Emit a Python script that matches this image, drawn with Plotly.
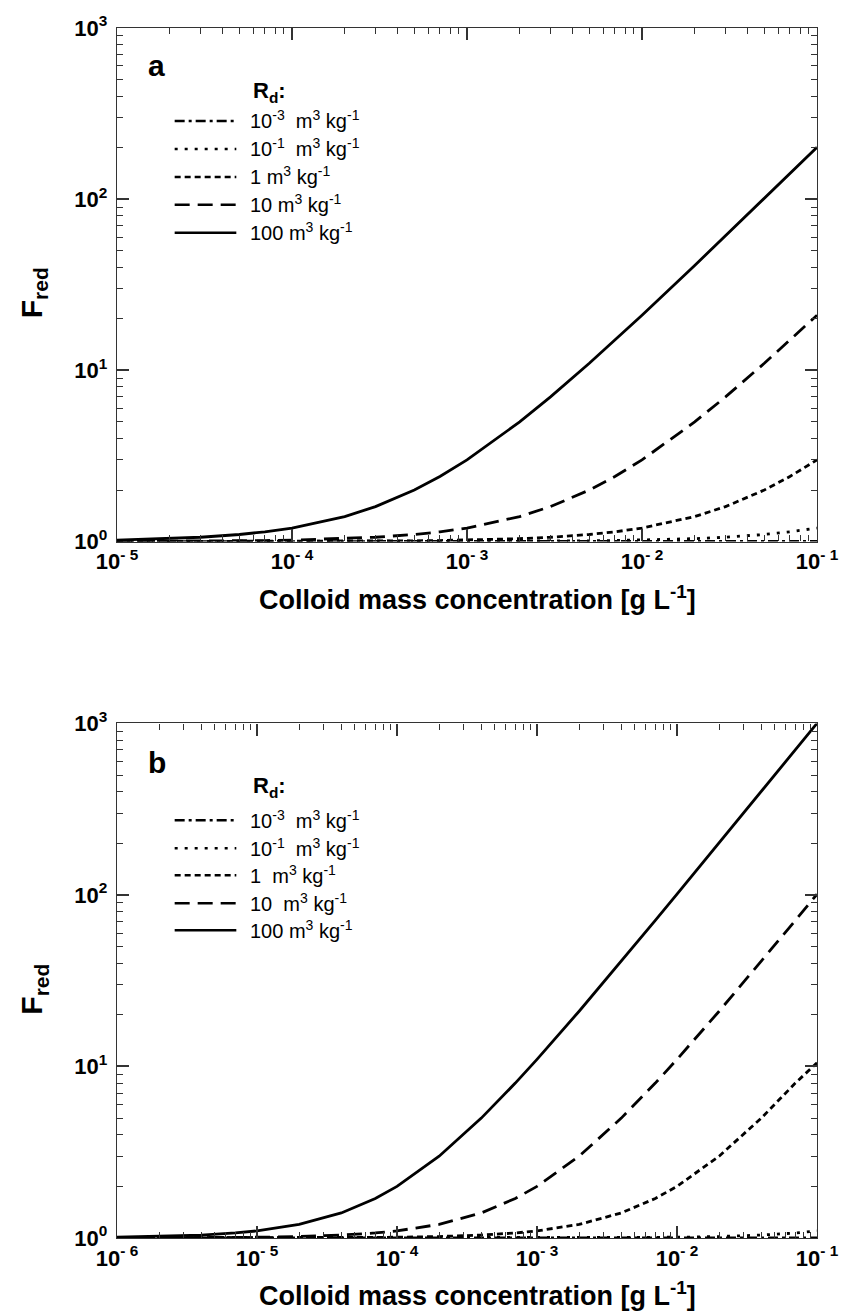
import plotly.graph_objects as go

# ---------------- data ----------------
conc_a = [1e-5, 2e-5, 3e-5, 5e-5, 7e-5, 1e-4, 2e-4, 3e-4, 5e-4, 7e-4, 1e-3, 2e-3, 3e-3, 5e-3, 7e-3,
          1e-2, 2e-2, 3e-2, 5e-2, 7e-2, 1e-1]
a_rd_1e3 = [1.0, 1.0, 1.0, 1.0, 1.0, 1.0, 1.0, 1.0, 1.0, 1.0, 1.0, 1.0, 1.0, 1.0, 1.0,
            1.0002, 1.0004, 1.0006, 1.001, 1.0014, 1.002]
a_rd_1e1 = [1.00002, 1.00004, 1.00006, 1.0001, 1.00014, 1.0002, 1.0004, 1.0006, 1.001, 1.0014,
            1.002, 1.004, 1.006, 1.01, 1.014, 1.02, 1.04, 1.06, 1.1, 1.14, 1.2]
a_rd_1 = [1.0002, 1.0004, 1.0006, 1.001, 1.0014, 1.002, 1.004, 1.006, 1.01, 1.014,
          1.02, 1.04, 1.06, 1.1, 1.14, 1.2, 1.4, 1.6, 2.0, 2.4, 3.0]
a_rd_10 = [1.002, 1.004, 1.006, 1.01, 1.014, 1.02, 1.04, 1.06, 1.1, 1.14,
           1.2, 1.4, 1.6, 2.0, 2.4, 3.0, 5.0, 7.0, 11.0, 15.0, 21.0]
a_rd_100 = [1.02, 1.04, 1.06, 1.1, 1.14, 1.2, 1.4, 1.6, 2.0, 2.4,
            3.0, 5.0, 7.0, 11.0, 15.0, 21.0, 41.0, 61.0, 101.0, 141.0, 201.0]

conc_b = [1e-6, 2e-6, 4e-6, 7e-6, 1e-5, 2e-5, 4e-5, 7e-5, 1e-4, 2e-4, 4e-4, 7e-4,
          1e-3, 2e-3, 4e-3, 7e-3, 1e-2, 2e-2, 4e-2, 7e-2, 1e-1]
b_rd_1e3 = [1.0, 1.0, 1.0, 1.0, 1.0, 1.0, 1.0, 1.0, 1.0, 1.0, 1.0, 1.0,
            1.0, 1.0, 1.0, 1.0, 1.0, 1.0, 1.0, 1.0, 1.001]
b_rd_1e1 = [1.0, 1.0, 1.0, 1.0, 1.0, 1.0, 1.0, 1.0, 1.0001, 1.0002, 1.0004, 1.0007,
            1.001, 1.002, 1.004, 1.007, 1.01, 1.02, 1.04, 1.07, 1.1]
b_rd_1 = [1.0001, 1.0002, 1.0004, 1.0007, 1.001, 1.002, 1.004, 1.007, 1.01, 1.02,
          1.04, 1.07, 1.1, 1.2, 1.4, 1.7, 2.0, 3.0, 5.0, 8.0, 10.5]
b_rd_10 = [1.001, 1.002, 1.004, 1.007, 1.01, 1.02, 1.04, 1.07, 1.1, 1.2, 1.4,
           1.7, 2.0, 3.0, 5.0, 8.0, 11.0, 21.0, 41.0, 71.0, 101.0]
b_rd_100 = [1.01, 1.02, 1.04, 1.07, 1.1, 1.2, 1.4, 1.7, 2.0, 3.0, 5.0, 8.0,
            11.0, 21.0, 41.0, 71.0, 101.0, 201.0, 401.0, 701.0, 1001.0]

legend_names_a = ["10<sup>-3</sup>  m<sup>3</sup> kg<sup>-1</sup>",
                  "10<sup>-1</sup>  m<sup>3</sup> kg<sup>-1</sup>",
                  "1 m<sup>3</sup> kg<sup>-1</sup>",
                  "10 m<sup>3</sup> kg<sup>-1</sup>",
                  "100 m<sup>3</sup> kg<sup>-1</sup>"]
legend_names_b = ["10<sup>-3</sup>  m<sup>3</sup> kg<sup>-1</sup>",
                  "10<sup>-1</sup>  m<sup>3</sup> kg<sup>-1</sup>",
                  "1  m<sup>3</sup> kg<sup>-1</sup>",
                  "10  m<sup>3</sup> kg<sup>-1</sup>",
                  "100 m<sup>3</sup> kg<sup>-1</sup>"]

x_ticks_a = [1e-5, 1e-4, 1e-3, 1e-2, 1e-1]
x_text_a = ["10<sup>- 5</sup>", "10<sup>- 4</sup>", "10<sup>- 3</sup>", "10<sup>- 2</sup>", "10<sup>- 1</sup>"]
x_ticks_b = [1e-6, 1e-5, 1e-4, 1e-3, 1e-2, 1e-1]
x_text_b = ["10<sup>- 6</sup>", "10<sup>- 5</sup>", "10<sup>- 4</sup>", "10<sup>- 3</sup>", "10<sup>- 2</sup>", "10<sup>- 1</sup>"]
y_ticks = [1, 10, 100, 1000]
y_text = ["10<sup>0</sup>", "10<sup>1</sup>", "10<sup>2</sup>", "10<sup>3</sup>"]
x_title = "Colloid mass concentration [g L<sup>-1</sup>]"
y_title = "F<sub>red</sub>"

# ---------------- styles ----------------
dashes = ["10px,4px,3px,4px", "3px,7px", "6px,4px", "15px,8px", "solid"]
LW = 2.8

fig = go.Figure()

for i, ys in enumerate([a_rd_1e3, a_rd_1e1, a_rd_1, a_rd_10, a_rd_100]):
    fig.add_trace(go.Scatter(x=conc_a, y=ys, mode="lines", name=legend_names_a[i],
                             line=dict(color="black", width=LW, dash=dashes[i]),
                             xaxis="x", yaxis="y", showlegend=False, cliponaxis=False))
for i, ys in enumerate([b_rd_1e3, b_rd_1e1, b_rd_1, b_rd_10, b_rd_100]):
    fig.add_trace(go.Scatter(x=conc_b, y=ys, mode="lines", name=legend_names_b[i],
                             line=dict(color="black", width=LW, dash=dashes[i]),
                             xaxis="x2", yaxis="y2", showlegend=False, cliponaxis=False))
# empty traces that only carry the minor-tick overlay axes
fig.add_trace(go.Scatter(x=[], y=[], xaxis="x3", yaxis="y3", showlegend=False, hoverinfo="skip"))
fig.add_trace(go.Scatter(x=[], y=[], xaxis="x4", yaxis="y4", showlegend=False, hoverinfo="skip"))

W, H = 851, 1315
ML, MR, MT, MB = 117, 30, 27, 77
PH = H - MT - MB
PW = W - ML - MR


def py(px):
    return 1 - (px - MT) / PH


def pxx(px):
    return (px - ML) / PW


def minor_vals(lo, hi):
    return [m * 10.0 ** e for e in range(lo, hi) for m in range(2, 10)]


FAM = "Liberation Sans, Arial"
TICKFONT = dict(family=FAM, size=22, color="black", weight="bold")
AXC = "#333333"

major = dict(type="log", showgrid=False, zeroline=False, showline=True,
             linecolor=AXC, linewidth=1.4, mirror="ticks", ticks="inside",
             ticklen=12, tickwidth=1.6, tickcolor=AXC, tickfont=TICKFONT,
             tickmode="array")
minor = dict(type="log", showgrid=False, zeroline=False, showline=True,
             linecolor=AXC, linewidth=1.4, mirror="ticks", ticks="inside",
             ticklen=6, tickwidth=1.4, tickcolor=AXC, showticklabels=False,
             tickmode="array")

dom_a = [py(541), 1]
dom_b = [0, py(723)]

fig.update_layout(
    width=W, height=H, margin=dict(l=ML, r=MR, t=MT, b=MB),
    paper_bgcolor="white", plot_bgcolor="white",
    xaxis=dict(major, domain=[0, 1], anchor="y", range=[-5, -1],
               tickvals=x_ticks_a, ticktext=x_text_a),
    yaxis=dict(major, domain=dom_a, anchor="x", range=[0, 3],
               tickvals=y_ticks, ticktext=y_text, ticklabelstandoff=4),
    xaxis2=dict(major, domain=[0, 1], anchor="y2", range=[-6, -1],
                tickvals=x_ticks_b, ticktext=x_text_b),
    yaxis2=dict(major, domain=dom_b, anchor="x2", range=[0, 3],
                tickvals=y_ticks, ticktext=y_text, ticklabelstandoff=4),
    xaxis3=dict(minor, overlaying="x", anchor="y3", range=[-5, -1],
                tickvals=minor_vals(-5, -1)),
    yaxis3=dict(minor, overlaying="y", anchor="x3", range=[0, 3],
                tickvals=minor_vals(0, 3)),
    xaxis4=dict(minor, overlaying="x2", anchor="y4", range=[-6, -1],
                tickvals=minor_vals(-6, -1)),
    yaxis4=dict(minor, overlaying="y2", anchor="x4", range=[0, 3],
                tickvals=minor_vals(0, 3)),
)

# ---------------- legends, panel letters and axis titles ----------------
LEG_FONT = dict(family=FAM, size=20, color="black")
rows_a = [120, 148, 176, 204, 232]
rows_b = [820, 848, 875, 903, 930]
annotations = []
shapes = []
for rows, names in ((rows_a, legend_names_a), (rows_b, legend_names_b)):
    for i, (yy, nm) in enumerate(zip(rows, names)):
        shapes.append(dict(type="line", xref="paper", yref="paper",
                           x0=pxx(175), x1=pxx(237), y0=py(yy), y1=py(yy),
                           line=dict(color="black", width=2.5, dash=dashes[i])))
        annotations.append(dict(text=nm, xref="paper", yref="paper", x=pxx(249), y=py(yy - 1),
                                xanchor="left", yanchor="middle", showarrow=False, font=LEG_FONT))

for lab, ly, ry, xt_y, yt_y in (("a", 65, 91, 597, 292), ("b", 762, 787, 1294, 989)):
    annotations.append(dict(text="<b>%s</b>" % lab, xref="paper", yref="paper", x=pxx(157),
                            y=py(ly), xanchor="center", yanchor="middle", showarrow=False,
                            font=dict(family=FAM, size=30, color="black")))
    annotations.append(dict(text="<b>R<sub>d</sub>:</b>", xref="paper", yref="paper",
                            x=pxx(252), y=py(ry), xanchor="left", yanchor="middle", showarrow=False,
                            font=dict(family=FAM, size=22, color="black")))
    annotations.append(dict(text="<b>%s</b>" % x_title, xref="paper", yref="paper",
                            x=pxx(480), y=py(xt_y), xanchor="center", yanchor="middle",
                            showarrow=False, font=dict(family=FAM, size=27, color="black")))
    annotations.append(dict(text="<b>%s</b>" % y_title, xref="paper", yref="paper",
                            x=pxx(33), y=py(yt_y), xanchor="center", yanchor="middle",
                            textangle=-90, showarrow=False,
                            font=dict(family=FAM, size=30, color="black")))

fig.update_layout(annotations=annotations, shapes=shapes)

fig.write_html("out.html")
